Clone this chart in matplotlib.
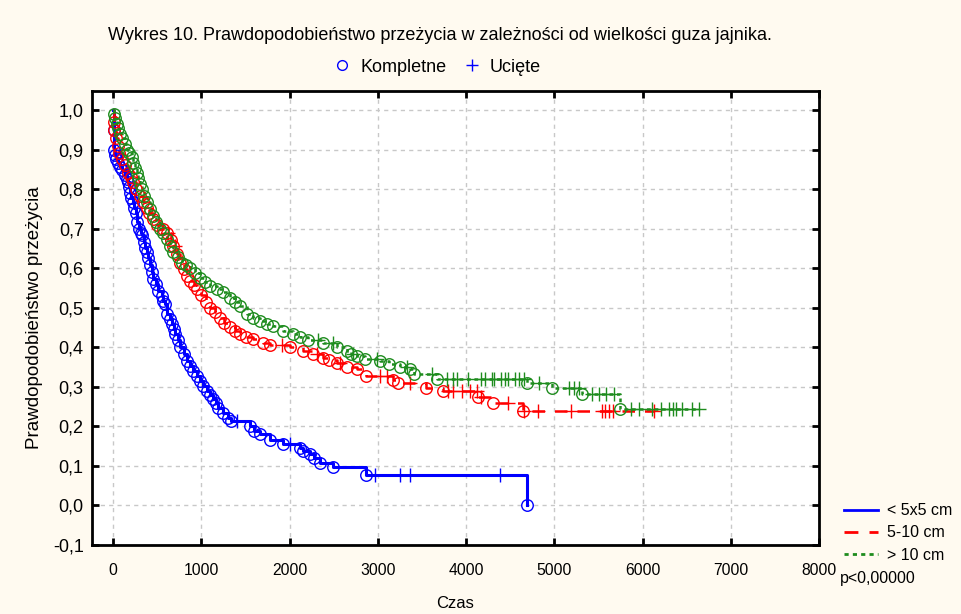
import numpy as np
import matplotlib
matplotlib.use("Agg")
import matplotlib.pyplot as plt
from matplotlib.lines import Line2D

FONT = ['Liberation Sans', 'DejaVu Sans']
plt.rcParams['font.family'] = FONT

title = "Wykres 10. Prawdopodobieństwo przeżycia w zależności od wielkości guza jajnika."
xlabel = "Czas"
ylabel = "Prawdopodobieństwo przeżycia"
group_labels = ["< 5x5 cm", "5-10 cm", "> 10 cm"]
marker_labels = ["Kompletne", "Ucięte"]
p_text = "p<0,00000"
x_ticks = [0, 1000, 2000, 3000, 4000, 5000, 6000, 7000, 8000]
y_ticks = [-0.1, 0.0, 0.1, 0.2, 0.3, 0.4, 0.5, 0.6, 0.7, 0.8, 0.9, 1.0]

# group < 5x5 cm : event times and survival after each event
small_t = [5, 10, 20, 30, 50, 80, 100, 135, 155, 170, 180, 190, 205, 225, 240, 255, 270, 290, 310,
           325, 345, 365, 380, 395, 420, 440, 455, 480, 510, 550, 570, 590, 610, 640, 665, 685, 700,
           730, 760, 800, 835, 870, 905, 945, 985, 1020, 1060, 1100, 1130, 1160, 1190, 1240, 1300,
           1330, 1550, 1600, 1660, 1776, 1923, 2115, 2150, 2230, 2280, 2340, 2490, 2860, 4690]
small_s = [0.95, 0.90, 0.886, 0.875, 0.865, 0.855, 0.847, 0.835, 0.826, 0.817, 0.805, 0.79, 0.778,
           0.767, 0.752, 0.74, 0.716, 0.70, 0.69, 0.683, 0.665, 0.65, 0.64, 0.625, 0.607, 0.59, 0.573,
           0.56, 0.543, 0.53, 0.518, 0.51, 0.485, 0.472, 0.46, 0.447, 0.434, 0.418, 0.40, 0.383, 0.365,
           0.352, 0.34, 0.328, 0.315, 0.302, 0.29, 0.28, 0.27, 0.258, 0.246, 0.235, 0.222, 0.213, 0.20,
           0.188, 0.18, 0.165, 0.155, 0.145, 0.137, 0.13, 0.12, 0.107, 0.098, 0.078, 0.0]
small_cens = [1400, 2000, 2965, 3250, 3360, 4380]

# group 5-10 cm
mid_t = [5, 15, 30, 50, 70, 100, 135, 170, 200, 225, 260, 300, 340, 380, 410, 450, 500, 560, 610,
         650, 680, 720, 760, 800, 835, 870, 920, 950, 1000, 1050, 1100, 1150, 1210, 1260, 1325, 1380,
         1435, 1500, 1590, 1700, 1776, 2000, 2150, 2260, 2375, 2450, 2535, 2650, 2760, 2870, 3170,
         3225, 3550, 3735, 4130, 4300, 4640]
mid_s = [0.97, 0.95, 0.93, 0.91, 0.89, 0.875, 0.86, 0.84, 0.83, 0.817, 0.80, 0.783, 0.767, 0.752,
         0.74, 0.725, 0.71, 0.70, 0.69, 0.672, 0.657, 0.635, 0.614, 0.597, 0.58, 0.568, 0.558, 0.548,
         0.532, 0.515, 0.50, 0.49, 0.475, 0.462, 0.45, 0.44, 0.434, 0.427, 0.42, 0.41, 0.405, 0.40,
         0.39, 0.382, 0.373, 0.367, 0.36, 0.35, 0.345, 0.327, 0.318, 0.31, 0.297, 0.29, 0.274, 0.26,
         0.238]
mid_cens = [620, 700, 1910, 2310, 2570, 3020, 3100, 3360, 3790, 3850, 3950, 4050, 4120, 4170, 4470,
            4660, 4810, 5190, 5540, 5580, 5620, 5660, 6130]

# group > 10 cm
big_t = [5, 20, 40, 60, 80, 100, 130, 155, 180, 210, 230, 250, 270, 285, 305, 325, 355, 385, 420,
         450, 490, 530, 570, 610, 645, 680, 730, 780, 830, 870, 930, 985, 1040, 1100, 1175, 1245,
         1325, 1380, 1435, 1515, 1590, 1665, 1740, 1810, 1923, 2040, 2120, 2205, 2375, 2535, 2650,
         2700, 2760, 2850, 3020, 3130, 3250, 3360, 3415, 3665, 4695, 4975, 5315, 5750]
big_s = [0.99, 0.98, 0.965, 0.955, 0.94, 0.93, 0.915, 0.90, 0.89, 0.88, 0.866, 0.853, 0.84, 0.827,
         0.813, 0.80, 0.783, 0.767, 0.75, 0.733, 0.717, 0.70, 0.688, 0.675, 0.657, 0.64, 0.627,
         0.614, 0.607, 0.60, 0.588, 0.576, 0.566, 0.556, 0.547, 0.54, 0.525, 0.515, 0.505, 0.485,
         0.475, 0.467, 0.46, 0.454, 0.44, 0.434, 0.425, 0.418, 0.41, 0.40, 0.39, 0.384, 0.378, 0.37,
         0.365, 0.358, 0.35, 0.345, 0.332, 0.32, 0.31, 0.297, 0.281, 0.244]
big_cens = [2320, 2490, 2715, 2990, 3325, 3610, 3780, 3850, 3900, 4020, 4170, 4210, 4290, 4320,
            4400, 4440, 4470, 4550, 4600, 4660, 4830, 5170, 5220, 5280, 5430, 5510, 5590, 5680,
            5870, 5960, 6110, 6210, 6300, 6340, 6380, 6450, 6560, 6640]

colors = ['#0000FF', '#FF0000', '#1E8C1E']
styles = ['-', (0, (5, 4)), (0, (1.5, 1.5))]
widths = [2.2, 1.8, 1.8]
groups = [(small_t, small_s, small_cens), (mid_t, mid_s, mid_cens), (big_t, big_s, big_cens)]

fig = plt.figure(figsize=(9.61, 6.14), dpi=100, facecolor='#FFFAF0')
ax = fig.add_axes([92 / 961, 1 - 545 / 614, 727 / 961, 454 / 614])
ax.set_facecolor('white')

for (t, s, c), col, ls, lw in zip(groups, colors, styles, widths):
    t = np.asarray(t, float)
    s = np.asarray(s, float)
    c = np.asarray(c, float)
    tt = np.concatenate([[0.0], t])
    ss = np.concatenate([[1.0], s])
    tend = max(tt[-1], c.max())
    tt_line = np.concatenate([tt, [tend]])
    ss_line = np.concatenate([ss, [ss[-1]]])
    ax.step(tt_line, ss_line, where='post', color=col, lw=lw, linestyle=ls, zorder=3)
    ax.plot(t, s, 'o', mfc='none', mec=col, ms=8.3, mew=1.0, zorder=4)
    idx = np.searchsorted(tt, c, side='right') - 1
    ax.plot(c, ss[idx], '+', color=col, ms=9.5, mew=1.0, zorder=4)

ax.set_xlim(-240, 8000)
ax.set_ylim(-0.1, 1.048)
ax.set_xticks(x_ticks)
ax.set_yticks(y_ticks)
ax.set_yticklabels([f"{v:.1f}".replace('.', ',') for v in y_ticks], fontsize=13)
ax.set_xticklabels([str(v) for v in x_ticks], fontsize=11.3)
ax.tick_params(direction='in', length=5, width=2, top=True, right=True)
ax.tick_params(axis='y', pad=6)
ax.tick_params(axis='x', pad=13)
for sp in ax.spines.values():
    sp.set_linewidth(2)
ax.grid(True, color='#C8C8C8', linestyle=(0, (3, 3)), lw=1)
ax.set_axisbelow(True)

ax.set_xlabel(xlabel, fontsize=12, labelpad=13)
ax.set_ylabel(ylabel, fontsize=13.5, labelpad=7)

fig.text(440 / 961, 1 - 35 / 614, title, ha='center', va='center', fontsize=13)

h1 = Line2D([], [], marker='o', mfc='none', mec='#0000FF', color='none', ms=7)
h2 = Line2D([], [], marker='+', color='#0000FF', linestyle='none', ms=9)
fig.legend([h1, h2], marker_labels, loc='center', bbox_to_anchor=(437 / 961, 1 - 67 / 614),
           ncol=2, frameon=False, prop={'size': 13},
           handlelength=1.0, handletextpad=0.5, columnspacing=0.9)

gh = [Line2D([], [], color=col, lw=2, linestyle=ls) for col, ls in zip(colors, styles)]
fig.legend(gh, group_labels, loc='upper left', bbox_to_anchor=(833 / 961, 1 - 492 / 614),
           frameon=False, prop={'size': 11.5}, handlelength=2.1,
           handletextpad=0.6, labelspacing=0.45, borderpad=0.2)
fig.text(840 / 961, 1 - 578 / 614, p_text, ha='left', va='center', fontsize=11.5)

fig.savefig('out.png', dpi=100, facecolor=fig.get_facecolor())
